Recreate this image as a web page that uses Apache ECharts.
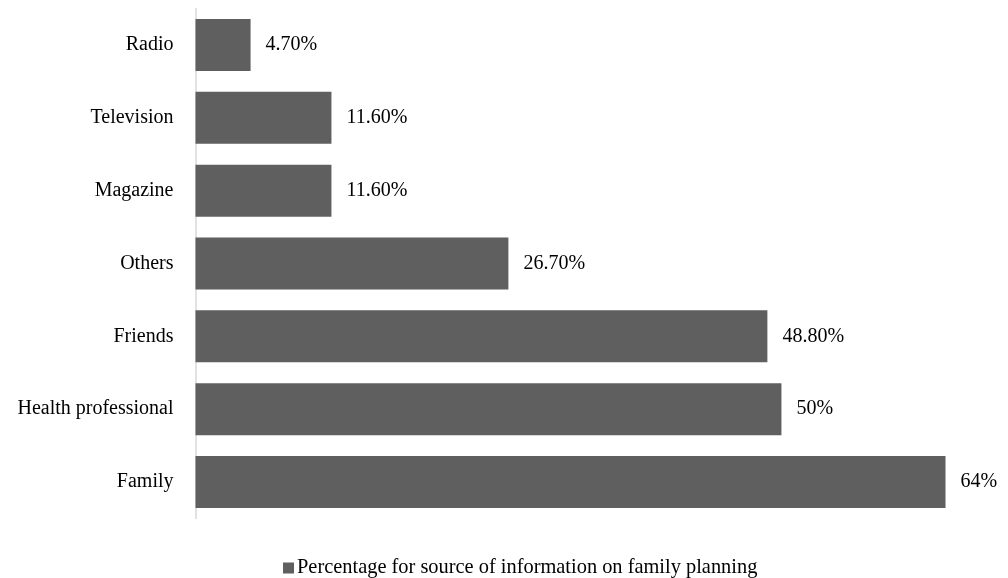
<!DOCTYPE html>
<html>
<head>
<meta charset="utf-8">
<script src="https://cdn.jsdelivr.net/npm/echarts@6/dist/echarts.min.js"></script>
<style>html,body{margin:0;padding:0;background:#fff;}#c{width:1008px;height:578px;}</style>
</head>
<body>
<div id="c"></div>
<script>
const categories = ["Family", "Health professional", "Friends", "Others", "Magazine", "Television", "Radio"];
const values = [64, 50, 48.8, 26.7, 11.6, 11.6, 4.7];
const valueLabels = ["64%", "50%", "48.80%", "26.70%", "11.60%", "11.60%", "4.70%"];
const seriesName = "Percentage for source of information on family planning";

const font = "'Liberation Serif', 'Times New Roman', serif";
const chart = echarts.init(document.getElementById('c'), null, {renderer: 'canvas'});
chart.setOption({
  animation: false,
  backgroundColor: '#ffffff',
  textStyle: {fontFamily: font},
  grid: {left: 195.5, top: 8.6, height: 509.8, width: 750, containLabel: false},
  xAxis: {
    type: 'value', min: 0, max: 64,
    show: false
  },
  yAxis: {
    type: 'category',
    data: categories,
    axisLine: {show: true, lineStyle: {color: '#d9d9d9', width: 1.5}},
    axisTick: {show: false},
    axisLabel: {color: '#000', fontSize: 20, fontFamily: font, margin: 22},
    splitLine: {show: false}
  },
  legend: {
    show: true,
    data: [seriesName],
    top: 553,
    left: 278,
    icon: 'rect',
    itemWidth: 11,
    itemHeight: 11,
    itemGap: 6,
    textStyle: {color: '#000', fontSize: 20.4, fontFamily: font, padding: [0,0,0,-2]}
  },
  series: [{
    name: seriesName,
    type: 'bar',
    data: values,
    barCategoryGap: '28.6%',
    itemStyle: {color: '#5f5f5f'},
    label: {
      show: true,
      position: 'right',
      distance: 15,
      color: '#000',
      fontSize: 20,
      fontFamily: font,
      formatter: p => valueLabels[p.dataIndex]
    }
  }]
});
</script>
</body>
</html>
